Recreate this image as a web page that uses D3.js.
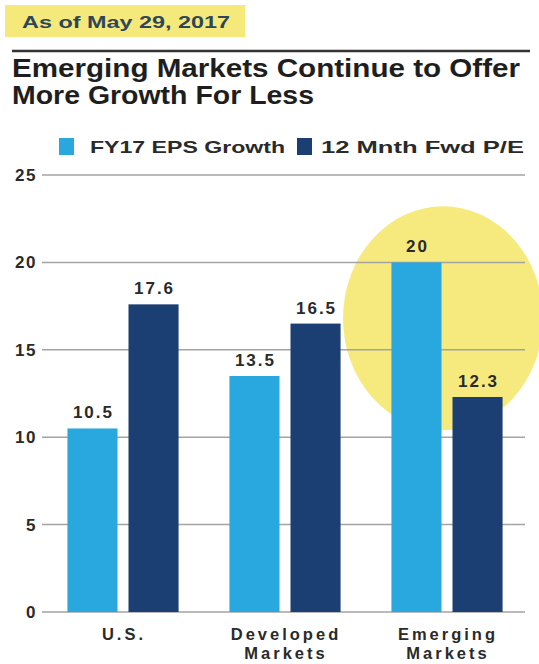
<!DOCTYPE html>
<html>
<head>
<meta charset="utf-8">
<script src="https://cdn.jsdelivr.net/npm/d3@7"></script>
<style>
  body { margin: 0; background: #fff; }
  svg text { font-family: "Liberation Sans", Arial, Helvetica, sans-serif; font-weight: bold; }
</style>
</head>
<body>
<div id="chart"></div>
<script>
const categories = [["U.S."], ["Developed", "Markets"], ["Emerging", "Markets"]]
const categoryKeys = ["U.S.", "Developed Markets", "Emerging Markets"]
const seriesNames = ["FY17 EPS Growth", "12 Mnth Fwd P/E"]
const epsGrowth = [10.5, 13.5, 20]
const fwdPE = [17.6, 16.5, 12.3]
const yTicks = [0, 5, 10, 15, 20, 25]

const width = 539
const height = 664
const colors = ["#29a7df", "#1b3f73"]

const svg = d3.select("#chart").append("svg")
  .attr("viewBox", [0, 0, width, height])
  .attr("width", width)
  .attr("height", height)

// date tag
svg.append("rect")
  .attr("x", 5).attr("y", 5).attr("width", 240).attr("height", 32)
  .attr("fill", "#f6e97c")
svg.append("text")
  .attr("x", 22).attr("y", 28)
  .attr("font-size", 17)
  .attr("fill", "#2d4659")
  .attr("textLength", 208).attr("lengthAdjust", "spacingAndGlyphs")
  .text("As of May 29, 2017")

// title
svg.append("line")
  .attr("x1", 12).attr("x2", 530).attr("y1", 51).attr("y2", 51)
  .attr("stroke", "#333").attr("stroke-width", 2.5)
const titleLines = ["Emerging Markets Continue to Offer", "More Growth For Less"]
const titleWidths = [508, 302]
svg.append("g").selectAll("text")
  .data(titleLines)
  .join("text")
  .attr("x", 12)
  .attr("y", (d, i) => 77 + i * 27)
  .attr("font-size", 25)
  .attr("fill", "#1e1e1e")
  .attr("textLength", (d, i) => titleWidths[i])
  .attr("lengthAdjust", "spacingAndGlyphs")
  .text(d => d)

// legend
const legendX = [59, 297]
const legendTextW = [195, 203]
const legend = svg.append("g").selectAll("g")
  .data(seriesNames)
  .join("g")
  .attr("transform", (d, i) => `translate(${legendX[i]},138)`)
legend.append("rect")
  .attr("width", 15).attr("height", 17)
  .attr("fill", (d, i) => colors[i])
legend.append("text")
  .attr("x", (d, i) => i === 0 ? 31 : 24)
  .attr("y", 15)
  .attr("font-size", 17)
  .attr("fill", "#2a2a2a")
  .attr("textLength", (d, i) => legendTextW[i])
  .attr("lengthAdjust", "spacingAndGlyphs")
  .text(d => d)

// scales
const x0 = d3.scaleBand()
  .domain(categoryKeys)
  .range([42, 528])
  .paddingInner(0.314)
  .paddingOuter(0.157)

const x1 = d3.scaleBand()
  .domain(seriesNames)
  .range([0, x0.bandwidth()])
  .paddingInner(0.18)

const y = d3.scaleLinear()
  .domain([0, 25])
  .range([612, 175])

// highlight ellipse behind emerging markets
svg.append("ellipse")
  .attr("cx", x0("Emerging Markets") + x0.bandwidth() / 2 - 4)
  .attr("cy", y(16.8))
  .attr("rx", 100)
  .attr("ry", 112)
  .attr("fill", "#f6ea7e")

// grid + y labels
const axisY = svg.append("g").classed("axis y", true)
axisY.selectAll("line")
  .data(yTicks)
  .join("line")
  .attr("x1", 42).attr("x2", 525)
  .attr("y1", d => y(d)).attr("y2", d => y(d))
  .attr("stroke", "#a3a3a3").attr("stroke-width", 1.5)
axisY.selectAll("text")
  .data(yTicks)
  .join("text")
  .attr("x", 37)
  .attr("y", d => y(d) + 6)
  .attr("text-anchor", "end")
  .attr("font-size", 17)
  .attr("letter-spacing", 1.5)
  .attr("fill", "#2a2a2a")
  .text(d => d)

// bars
const rows = categoryKeys.map((c, i) => ({
  cat: c,
  vals: [
    { key: seriesNames[0], v: epsGrowth[i] },
    { key: seriesNames[1], v: fwdPE[i] }
  ]
}))

const groups = svg.append("g").classed("bars", true)
  .selectAll("g")
  .data(rows)
  .join("g")
  .attr("transform", d => `translate(${x0(d.cat)},0)`)

groups.selectAll("rect")
  .data(d => d.vals)
  .join("rect")
  .attr("x", d => x1(d.key))
  .attr("y", d => y(d.v))
  .attr("width", x1.bandwidth())
  .attr("height", d => y(0) - y(d.v))
  .attr("fill", (d, i) => colors[i])

groups.selectAll("text")
  .data(d => d.vals)
  .join("text")
  .attr("x", d => x1(d.key) + x1.bandwidth() / 2 + 1)
  .attr("y", d => y(d.v) - 10)
  .attr("text-anchor", "middle")
  .attr("font-size", 17)
  .attr("letter-spacing", 2)
  .attr("fill", "#2a2a2a")
  .text(d => d.v)

// category labels
const catLabels = svg.append("g").classed("axis x", true)
  .selectAll("text")
  .data(categories)
  .join("text")
  .attr("x", (d, i) => x0(categoryKeys[i]) + x0.bandwidth() / 2 + 1)
  .attr("y", 640)
  .attr("text-anchor", "middle")
  .attr("font-size", 16.5)
  .attr("letter-spacing", 3)
  .attr("fill", "#2a2a2a")
catLabels.selectAll("tspan")
  .data(d => d)
  .join("tspan")
  .attr("x", function () { return this.parentNode.getAttribute("x") })
  .attr("dy", (d, i) => i === 0 ? 0 : 19)
  .text(d => d)
</script>
</body>
</html>
